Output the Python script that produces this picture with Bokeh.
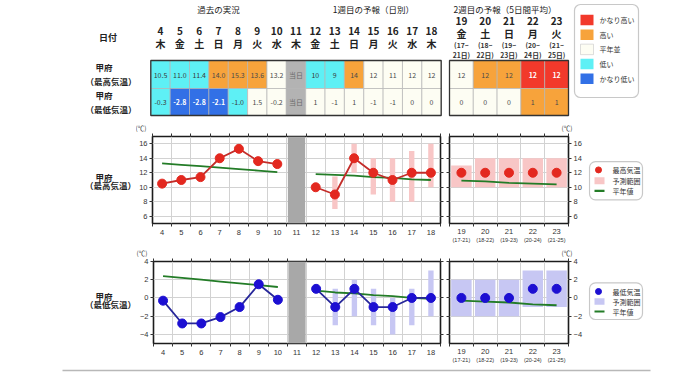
from bokeh.plotting import figure
from bokeh.layouts import row, column
from bokeh.models import Range1d, FixedTicker, LinearAxis, BoxAnnotation, Title, Grid
from bokeh.core.properties import value
from bokeh.embed import file_html
from bokeh.resources import INLINE

JP = "Noto Sans CJK JP"
NUM = "Liberation Sans"

# ---------------- data ----------------
w1_days = [4, 5, 6, 7, 8, 9, 10, 11, 12, 13, 14, 15, 16, 17, 18]
w1_weekdays = ["木", "金", "土", "日", "月", "火", "水", "木", "金", "土", "日", "月", "火", "水", "木"]
w2_days = [19, 20, 21, 22, 23]
w2_weekdays = ["金", "土", "日", "月", "火"]
w2_span_from = ["(17~", "(18~", "(19~", "(20~", "(21~"]
w2_span_to = ["21日)", "22日)", "23日)", "24日)", "25日)"]
w2_span_axis = ["(17-21)", "(18-22)", "(19-23)", "(20-24)", "(21-25)"]
today = 11
today_text = "当日"

section_titles = ["過去の実況", "1週目の予報（日別）", "2週目の予報（5日間平均）"]
place = "甲府"
max_label = "（最高気温）"
min_label = "（最低気温）"

obs_days = [4, 5, 6, 7, 8, 9, 10]
obs_max = [10.5, 11.0, 11.4, 14.0, 15.3, 13.6, 13.2]
obs_min = [-0.3, -2.8, -2.8, -2.1, -1.0, 1.5, -0.2]

fc_days = [12, 13, 14, 15, 16, 17, 18]
fc_max = [10, 9, 14, 12, 11, 12, 12]
fc_max_low = [None, 7, 12, 9, 8, 8, 10]
fc_max_high = [None, 11.5, 16, 14, 14, 15, 16]
fc_min = [1, -1, 1, -1, -1, 0, 0]
fc_min_low = [None, -3, -2, -3, -4, -3, -2]
fc_min_high = [None, 1, 2, 1, 0, 1, 3]

w2_max = [12, 12, 12, 12, 12]
w2_max_low = [10, 10, 10, 10, 10]
w2_max_high = [13, 14, 14, 14, 14]
w2_min = [0, 0, 0, 1, 1]
w2_min_low = [-2, -2, -2, -1, -1]
w2_min_high = [2, 2, 2, 3, 3]

norm_max_obs = [13.3, 13.1, 12.9, 12.7, 12.5, 12.3, 12.1]
norm_max_fc = [11.8, 11.7, 11.6, 11.4, 11.3, 11.1, 11.0]
norm_max_w2 = [10.9, 10.8, 10.6, 10.5, 10.4]
norm_min_obs = [2.4, 2.2, 2.0, 1.8, 1.6, 1.4, 1.2]
norm_min_fc = [0.8, 0.6, 0.5, 0.3, 0.2, 0.0, -0.1]
norm_min_w2 = [-0.3, -0.4, -0.5, -0.7, -0.8]

class_max_w1 = ["low", "low", "low", "high", "high", "high", "normal", "today",
                "low", "low", "high", "normal", "normal", "normal", "normal"]
class_max_w2 = ["normal", "high", "high", "vhigh", "vhigh"]
class_min_w1 = ["low", "vlow", "vlow", "vlow", "low", "normal", "normal", "today",
                "normal", "normal", "normal", "normal", "normal", "normal", "normal"]
class_min_w2 = ["normal", "normal", "normal", "high", "high"]

legend_keys = ["vhigh", "high", "normal", "low", "vlow"]
legend_names = ["かなり高い", "高い", "平年並", "低い", "かなり低い"]
max_legend = ["最高気温", "予測範囲", "平年値"]
min_legend = ["最低気温", "予測範囲", "平年値"]

# ---------------- styles ----------------
CLASS_FILL = {"vhigh": "#f2392b", "high": "#f7a33b", "normal": "#fdfdf3",
              "low": "#5ef0f5", "vlow": "#3270e6", "today": "#b3b3b3"}
CLASS_TEXT = {"vhigh": "white", "high": "#4a4a4a", "normal": "#4a4a4a",
              "low": "#3a3a3a", "vlow": "white", "today": "#6a6a6a"}
CLASS_STYLE = {"vhigh": "bold", "vlow": "bold"}
GREEN = "#237c27"
GRID_C = "#d2d2d2"
TODAY_C = "#a8a8a8"
MAX_DOT, MAX_LINE, MAX_BAND = "#e3281f", "#c42d2a", "#f8c6c6"
MIN_DOT, MIN_LINE, MIN_BAND = "#1c0fd2", "#27279a", "#c7c7f3"

PAGE_W = 680
TABLE_H, MAXROW_H, MINROW_H, LINE_H = 120, 125, 123, 14
LAB_W, W1_W, W2_W, LEG_W = 136, 308, 144, 92


def blank_fig(w, h):
    p = figure(width=w, height=h, x_range=Range1d(0, w), y_range=Range1d(h, 0),
               x_axis_location=None, y_axis_location=None, output_backend="svg",
               toolbar_location=None, min_border=0, outline_line_color=None,
               background_fill_color="white", border_fill_color="white")
    p.grid.visible = False
    return p


def add_text(p, xs, ys, texts, size, color="#222", style="normal", font=JP, align="center"):
    p.text(x=xs, y=ys, text=texts, text_font=value(font), text_font_size=size,
           text_color=color, text_font_style=style, text_align=align, text_baseline="middle")


# ---------------- table ----------------
tf = blank_fig(PAGE_W, TABLE_H)
X1, CW1, X2, CW2 = 150.3, 19.36, 449.0, 23.8
ROW_TOP, ROW_MID, ROW_BOT = 60, 88, 115
c1 = [X1 + CW1 * (i + 0.5) for i in range(len(w1_days))]
c2 = [X2 + CW2 * (i + 0.5) for i in range(len(w2_days))]

add_text(tf, [(c1[0] + c1[6]) / 2, (c1[8] + c1[14]) / 2, (c2[0] + c2[4]) / 2 - 4], [8, 8, 8],
         section_titles, "8.5px", "#222")
add_text(tf, c1, [30] * len(c1), [str(d) for d in w1_days], "10px", "#222", "bold")
add_text(tf, c1, [42.5] * len(c1), w1_weekdays, "10px", "#222", "bold")
add_text(tf, c2, [20] * len(c2), [str(d) for d in w2_days], "10px", "#222", "bold")
add_text(tf, c2, [33] * len(c2), w2_weekdays, "10px", "#222", "bold")
add_text(tf, c2, [44.5] * len(c2), w2_span_from, "6.8px", "#333", "bold")
add_text(tf, c2, [54] * len(c2), w2_span_to, "6.8px", "#333", "bold")
add_text(tf, [107.5], [37], ["日付"], "9px", "#222", "bold")
add_text(tf, [103.5, 110.5, 103.5, 110.5], [66.7, 80, 94, 108],
         [place, max_label, place, min_label], "8.5px", "#222", "bold")


def cell_texts(obs, fc, fmt_obs, fmt_fc):
    return [fmt_obs % v for v in obs] + [today_text] + [fmt_fc % v for v in fc]


max_txt_w1 = cell_texts(obs_max, fc_max, "%.1f", "%d")
min_txt_w1 = cell_texts(obs_min, fc_min, "%.1f", "%d")
max_txt_w2 = ["%d" % v for v in w2_max]
min_txt_w2 = ["%d" % v for v in w2_min]

for centers, cw, classes, texts, yc, h in [
        (c1, CW1, class_max_w1, max_txt_w1, (ROW_TOP + ROW_MID) / 2, ROW_MID - ROW_TOP),
        (c1, CW1, class_min_w1, min_txt_w1, (ROW_MID + ROW_BOT) / 2, ROW_BOT - ROW_MID),
        (c2, CW2, class_max_w2, max_txt_w2, (ROW_TOP + ROW_MID) / 2, ROW_MID - ROW_TOP),
        (c2, CW2, class_min_w2, min_txt_w2, (ROW_MID + ROW_BOT) / 2, ROW_BOT - ROW_MID)]:
    tf.rect(x=centers, y=[yc] * len(centers), width=cw, height=h,
            fill_color=[CLASS_FILL[c] for c in classes], line_color="#b5b5b5", line_width=0.7)
    add_text(tf, centers, [yc] * len(centers), texts, "7px",
             [CLASS_TEXT[c] for c in classes], [CLASS_STYLE.get(c, "normal") for c in classes])

for x0, cw, n in [(X1, CW1, len(w1_days)), (X2, CW2, len(w2_days))]:
    tf.rect(x=[x0 + cw * n / 2], y=[(ROW_TOP + ROW_BOT) / 2], width=cw * n,
            height=ROW_BOT - ROW_TOP, fill_color=None, line_color="#333333", line_width=1.3)

# class legend
tf.add_layout(BoxAnnotation(left=574, right=638, top=4, bottom=97, fill_color="white",
                            fill_alpha=1, line_color="#4a4a4a", line_width=1.2,
                            border_radius=6, level="underlay"))
ly = [19.5 + 14.7 * i for i in range(len(legend_keys))]
tf.rect(x=[586.5] * len(ly), y=ly, width=13, height=10.5,
        fill_color=[CLASS_FILL[k] for k in legend_keys],
        line_color=["#cfcfcf" if k == "normal" else None for k in legend_keys], line_width=0.7)
add_text(tf, [599] * len(ly), ly, legend_names, "7px", "#333", align="left")


# ---------------- charts ----------------
w1_half = [d - 0.5 for d in w1_days] + [w1_days[-1] + 0.5]
w2_half = [d - 0.5 for d in w2_days] + [w2_days[-1] + 0.5]


def base_panel(width, H, xr, yr, bl, br, bt, bb):
    p = figure(width=width, height=H, x_range=Range1d(*xr), y_range=Range1d(*yr),
               x_axis_location=None, y_axis_location=None, output_backend="svg",
               toolbar_location=None, min_border_left=bl, min_border_right=br,
               min_border_top=bt, min_border_bottom=bb,
               background_fill_color="white", border_fill_color="white")
    p.grid.visible = False
    p.outline_line_color = "#1c1c1c"
    p.outline_line_width = 1.6
    return p


def tick_only_axis(ticks):
    return LinearAxis(ticker=FixedTicker(ticks=ticks), major_tick_out=3, major_tick_in=0,
                      minor_tick_out=0, minor_tick_in=0, major_label_standoff=0,
                      major_label_overrides={t: "" for t in ticks},
                      major_label_text_font_size="1px", axis_line_color=None,
                      major_tick_line_color="#333")


def label_axis(ticks, size, standoff, overrides=None, minor=None):
    ax = LinearAxis(ticker=FixedTicker(ticks=ticks, minor_ticks=minor or []),
                    major_tick_out=0, major_tick_in=0,
                    minor_tick_out=3 if minor else 0, minor_tick_in=0,
                    major_label_standoff=standoff, axis_line_color=None,
                    major_label_text_font_size=size, major_label_text_color="#333",
                    major_label_text_font=NUM, minor_tick_line_color="#333")
    if overrides:
        ax.major_label_overrides = overrides
    return ax


def y_label_axis(ticks):
    return LinearAxis(ticker=FixedTicker(ticks=ticks), major_tick_out=3, major_tick_in=0,
                      minor_tick_out=0, minor_tick_in=0, major_label_standoff=2,
                      axis_line_color=None, major_label_text_font_size="7.5px",
                      major_label_text_color="#333", major_label_text_font=NUM,
                      major_tick_line_color="#333")


def unit_title(align, offset):
    return Title(text="(℃)", align=align, offset=offset, standoff=1, text_font_size="6.5px",
                 text_font_style="normal", text_color="#333", text_font=JP)


def chart_row(H, bt, bb, ylo, yhi, yticks, obs_v, fc_v, fc_lo, fc_hi, w2_v, w2_lo, w2_hi,
              n_obs, n_fc, n_w2, dot_c, line_c, band_c, row_label, lab_y, leg_labels,
              box_tb, item_y):
    # label figure
    lf = blank_fig(LAB_W, H)
    add_text(lf, [103.5, 110], lab_y, [place, row_label], "8.5px", "#222", "bold")

    # week-1 panel
    p1 = base_panel(W1_W, H, (w1_half[0], w1_half[-1]), (ylo, yhi), 14, 4, bt, bb)
    p1.add_layout(Grid(dimension=0, ticker=FixedTicker(ticks=w1_half), grid_line_color=GRID_C))
    p1.add_layout(Grid(dimension=1, ticker=FixedTicker(ticks=yticks), grid_line_color=GRID_C))
    p1.quad(left=[today - 0.45], right=[today + 0.45], bottom=[ylo], top=[yhi],
            fill_color=TODAY_C, line_color=None)
    rb = [(d, lo, hi) for d, lo, hi in zip(fc_days, fc_lo, fc_hi) if lo is not None]
    p1.vbar(x=[r[0] for r in rb], width=0.28, bottom=[r[1] for r in rb], top=[r[2] for r in rb],
            fill_color=band_c, line_color=None)
    p1.line(obs_days, n_obs, line_color=GREEN, line_width=1.8)
    p1.line(fc_days, n_fc, line_color=GREEN, line_width=1.8)
    p1.line(obs_days, obs_v, line_color=line_c, line_width=1.8)
    p1.line(fc_days, fc_v, line_color=line_c, line_width=1.8)
    p1.scatter(obs_days, obs_v, size=9, fill_color=dot_c, line_color=dot_c)
    p1.scatter(fc_days, fc_v, size=9, fill_color=dot_c, line_color=dot_c)
    p1.add_layout(label_axis(w1_days, "7.5px", 3, minor=w1_half), "below")
    p1.add_layout(tick_only_axis(w1_half), "above")
    p1.add_layout(unit_title("left", -17), "above")
    p1.add_layout(y_label_axis(yticks), "left")
    p1.add_layout(tick_only_axis(yticks), "right")

    # week-2 panel
    p2 = base_panel(W2_W, H, (w2_half[0], w2_half[-1]), (ylo, yhi), 5, 20, bt, bb)
    p2.add_layout(Grid(dimension=0, ticker=FixedTicker(ticks=w2_half), grid_line_color=GRID_C))
    p2.add_layout(Grid(dimension=1, ticker=FixedTicker(ticks=yticks), grid_line_color=GRID_C))
    p2.vbar(x=w2_days, width=0.86, bottom=w2_lo, top=w2_hi, fill_color=band_c, line_color=None)
    p2.line(w2_days, n_w2, line_color=GREEN, line_width=1.8)
    p2.scatter(w2_days, w2_v, size=9, fill_color=dot_c, line_color=dot_c)
    p2.add_layout(label_axis(w2_days, "7.5px", 2, minor=w2_half), "below")
    p2.add_layout(label_axis(w2_days, "5.5px", 0,
                             overrides={d: s for d, s in zip(w2_days, w2_span_axis)}), "below")
    p2.add_layout(tick_only_axis(w2_half), "above")
    p2.add_layout(unit_title("right", -4), "above")
    p2.add_layout(tick_only_axis(yticks), "left")
    p2.add_layout(y_label_axis(yticks), "right")

    # legend figure
    gf = blank_fig(LEG_W, H)
    gf.add_layout(BoxAnnotation(left=1, right=54, top=box_tb[0], bottom=box_tb[1],
                                fill_color="white", fill_alpha=1, line_color="#4a4a4a",
                                line_width=1.2, border_radius=6, level="underlay"))
    gf.scatter([10], [item_y[0]], size=6, fill_color=dot_c, line_color=dot_c)
    gf.rect([11], [item_y[1]], width=10, height=10, fill_color=band_c, line_color=None)
    gf.segment([6], [item_y[2]], [16], [item_y[2]], line_color=GREEN, line_width=2.2)
    add_text(gf, [24] * 3, item_y, leg_labels, "7px", "#333", align="left")

    return row(lf, p1, p2, gf)


max_row = chart_row(MAXROW_H, 15, 22, 5, 17, [6, 8, 10, 12, 14, 16],
                    obs_max, fc_max, fc_max_low, fc_max_high, w2_max, w2_max_low, w2_max_high,
                    norm_max_obs, norm_max_fc, norm_max_w2, MAX_DOT, MAX_LINE, MAX_BAND,
                    max_label, [58, 69], max_legend, (36, 91), [48, 63.5, 78])
min_row = chart_row(MINROW_H, 12, 25, -5, 4, [-4, -2, 0, 2, 4],
                    obs_min, fc_min, fc_min_low, fc_min_high, w2_min, w2_min_low, w2_min_high,
                    norm_min_obs, norm_min_fc, norm_min_w2, MIN_DOT, MIN_LINE, MIN_BAND,
                    min_label, [52, 63], min_legend, (32, 87), [45, 60, 75])

bf = blank_fig(PAGE_W, LINE_H)
bf.segment([62], [2], [650], [2], line_color="#b8b8b8", line_width=1.5)

page = column(tf, max_row, min_row, bf)
open("out.html", "w").write(file_html(page, INLINE))
